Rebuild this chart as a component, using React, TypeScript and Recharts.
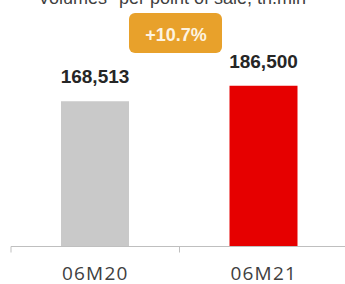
import React from "react";
import { BarChart, Bar, XAxis, YAxis, LabelList, Cell } from "recharts";

const periods = ["06M20", "06M21"];
const volumes = [168513, 186500];
const barColors = ["#c9c9c9", "#e60000"];
const growthLabel = "+10.7%";
const title = "Volumes* per point of sale, th.mln";
const edgeTicks = [0, 1, 2];

const data = periods.map((p, i) => ({ period: p, value: volumes[i], slot: i + 0.5 }));

const fmt = (v: number) => v.toLocaleString("en-US");

export default function App() {
  return (
    <div style={{ position: "absolute", left: 0, top: 0, width: 345, height: 284, overflow: "hidden", background: "#fff" }}>
      <BarChart
        width={350}
        height={284}
        data={data}
        margin={{ top: 74, right: 2, bottom: 8, left: 11 }}
        barSize={68}
      >
        <XAxis
          xAxisId={0}
          type="number"
          dataKey="slot"
          domain={[0, 2]}
          ticks={edgeTicks}
          allowDataOverflow
          interval={0}
          height={1}
          tick={() => <g />}
          axisLine={{ stroke: "#bfbfbf" }}
          tickLine={{ stroke: "#bfbfbf" }}
          tickSize={6}
        />
        <XAxis
          xAxisId="cat"
          dataKey="period"
          height={28.5}
          axisLine={false}
          tickLine={false}
          tickMargin={13}
          tick={{ fontFamily: "Open Sans", fontSize: 19, fill: "#404040", letterSpacing: 1.2 }}
        />
        <YAxis hide domain={[0, 200000]} />
        <Bar dataKey="value" xAxisId="cat" isAnimationActive={false}>
          {data.map((d, i) => (
            <Cell key={d.period} fill={barColors[i]} />
          ))}
          <LabelList
            dataKey="value"
            position="top"
            offset={18}
            formatter={(v: number) => fmt(v)}
            style={{ fontFamily: "Liberation Sans", fontSize: 19, fontWeight: 700, fill: "#262626" }}
          />
        </Bar>
      </BarChart>
      <svg width={345} height={284} style={{ position: "absolute", left: 0, top: 0, pointerEvents: "none" }}>
        <text x={172} y={4} textAnchor="middle" fontFamily="Liberation Sans" fontSize={18} fill="#404040">
          {title}
        </text>
        <rect x={129} y={13} width={93} height={40} rx={6} fill="#e8a12b" />
        <text x={176} y={41} textAnchor="middle" fontFamily="Liberation Sans" fontSize={18} fontWeight={700} fill="#fdf3e0">
          {growthLabel}
        </text>
      </svg>
    </div>
  );
}
